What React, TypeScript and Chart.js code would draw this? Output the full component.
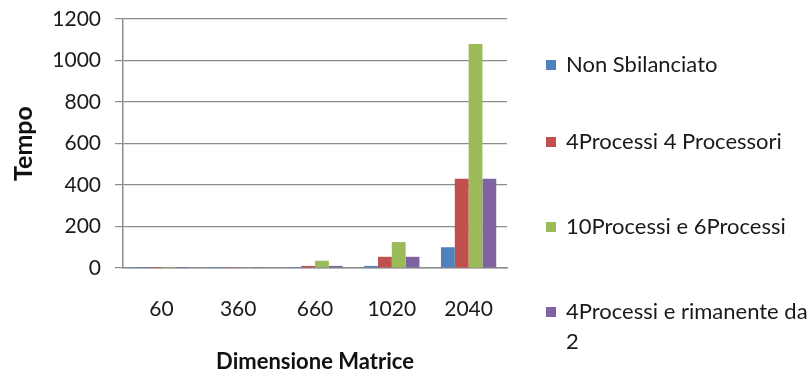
import React, { useEffect, useRef } from "react";
import { Chart, registerables } from "chart.js";

Chart.register(...registerables);

const categories = ["60", "360", "660", "1020", "2040"];
const seriesNames = [
  ["Non Sbilanciato"],
  ["4Processi 4 Processori"],
  ["10Processi e 6Processi"],
  ["4Processi e rimanente da", "2"],
];
const nonSbilanciato = [0.1, 0.5, 5, 10, 100];
const quattroProcessori = [0.2, 4, 10, 54, 430];
const dieciSei = [0.2, 4, 35, 125, 1080];
const quattroRimanente = [0.2, 4, 10, 54, 430];
const colors = ["#4F81BD", "#C0504D", "#9BBB59", "#8064A2"];
const yTicks = [0, 200, 400, 600, 800, 1000, 1200];

const FONT = "Lato, 'DejaVu Sans', sans-serif";

const customLegend = {
  id: "customLegend",
  afterDraw(chart: any) {
    const ctx = chart.ctx;
    ctx.save();
    ctx.font = `22px ${FONT}`;
    ctx.textBaseline = "middle";
    const ys = [65, 142, 227, 312];
    chart.data.datasets.forEach((ds: any, i: number) => {
      const y = ys[i];
      ctx.fillStyle = ds.backgroundColor;
      ctx.fillRect(546, y - 5, 10, 10);
      ctx.fillStyle = "#1a1a1a";
      const lines: string[] = Array.isArray(ds.label) ? ds.label : [ds.label];
      lines.forEach((t, j) => ctx.fillText(t, 566, y + j * 30));
    });
    ctx.restore();
  },
};

export default function App() {
  const ref = useRef<HTMLCanvasElement>(null);
  useEffect(() => {
    document.body.style.margin = "0";
    const datasetsData = [nonSbilanciato, quattroProcessori, dieciSei, quattroRimanente];
    const chart = new Chart(ref.current!, {
      type: "bar",
      data: {
        labels: categories,
        datasets: datasetsData.map((d, i) => ({
          label: seriesNames[i] as any,
          data: d,
          backgroundColor: colors[i],
          borderWidth: 0,
          categoryPercentage: 0.72,
          barPercentage: 1,
        })),
      },
      plugins: [customLegend],
      options: {
        responsive: false,
        animation: false,
        layout: { padding: { top: 19, right: 305, left: 0, bottom: 0 } },
        plugins: {
          legend: { display: false },
          tooltip: { enabled: false },
        },
        scales: {
          x: {
            grid: { display: false, drawTicks: false },
            border: { color: "#8c8c8c", width: 1.5 },
            ticks: { font: { family: FONT, size: 21 }, color: "#1a1a1a", padding: 29 },
            title: {
              display: true,
              text: "Dimensione Matrice",
              font: { family: FONT, size: 22, weight: "bold" },
              color: "#111",
              padding: { top: 0, bottom: 0 },
            },
            afterFit(scale: any) {
              scale.height = 107;
              scale.paddingLeft = 0;
              scale.paddingRight = 0;
            },
          },
          y: {
            min: 0,
            max: 1200,
            afterBuildTicks(scale: any) {
              scale.ticks = yTicks.map((v) => ({ value: v }));
            },
            grid: { color: "#8c8c8c", lineWidth: 1.2, tickLength: 8 },
            border: { color: "#8c8c8c", width: 1.5 },
            ticks: {
              font: { family: FONT, size: 21 },
              color: "#1a1a1a",
              padding: 14,
              callback: (v: any) => String(v),
            },
            title: {
              display: true,
              text: "Tempo",
              font: { family: FONT, size: 25, weight: "bold" },
              color: "#111",
              padding: { top: 9, bottom: 0 },
            },
            afterFit(scale: any) {
              scale.width = 123;
              scale.paddingTop = 0;
              scale.paddingBottom = 0;
            },
          },
        },
      },
    });
    return () => chart.destroy();
  }, []);
  return (
    <div style={{ position: "absolute", left: 0, top: 0, width: 812, height: 375, background: "#fff" }}>
      <canvas ref={ref} width={812} height={375} style={{ display: "block" }} />
    </div>
  );
}
